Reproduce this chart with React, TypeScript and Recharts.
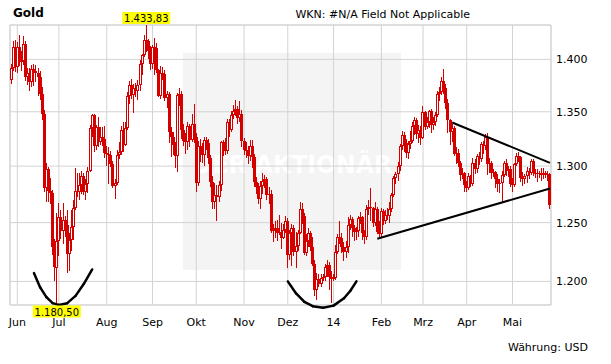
import React from 'react';
import {
  ComposedChart,
  Bar,
  XAxis,
  YAxis,
  CartesianGrid,
  ReferenceLine,
  ReferenceDot,
  ReferenceArea,
} from 'recharts';

// Gold spot, daily candles, 29.05.2013 – 27.05.2014 (index = trading day)
const opens = [
  1380, 1392, 1412, 1393, 1412, 1397, 1398, 1415, 1383, 1387, 1378, 1391, 1389, 1387, 1383, 1367, 1348, 1280, 1297, 1278,
  1276, 1229, 1211, 1234, 1255, 1243, 1252, 1248, 1223, 1235, 1246, 1263, 1278, 1277, 1283, 1291, 1277, 1284, 1296, 1335,
  1347, 1318, 1336, 1322, 1327, 1325, 1312, 1311, 1310, 1302, 1282, 1285, 1310, 1313, 1333, 1319, 1335, 1365, 1375, 1366,
  1372, 1370, 1375, 1396, 1404, 1419, 1418, 1408, 1396, 1412, 1411, 1390, 1365, 1387, 1386, 1363, 1367, 1331, 1327, 1319,
  1309, 1366, 1367, 1333, 1323, 1322, 1337, 1324, 1339, 1327, 1285, 1318, 1317, 1310, 1324, 1321, 1307, 1286, 1268, 1274,
  1272, 1283, 1322, 1316, 1314, 1340, 1333, 1347, 1351, 1353, 1344, 1348, 1323, 1315, 1314, 1309, 1318, 1308, 1286, 1281,
  1271, 1282, 1287, 1288, 1274, 1275, 1243, 1244, 1245, 1241, 1242, 1237, 1244, 1251, 1222, 1241, 1245, 1225, 1230, 1241,
  1262, 1256, 1224, 1234, 1241, 1229, 1215, 1193, 1202, 1198, 1203, 1204, 1212, 1214, 1204, 1202, 1203, 1225, 1238, 1237,
  1229, 1225, 1229, 1248, 1253, 1245, 1242, 1243, 1254, 1255, 1241, 1238, 1262, 1264, 1263, 1250, 1262, 1242, 1240, 1260,
  1251, 1257, 1256, 1262, 1274, 1289, 1293, 1300, 1318, 1328, 1321, 1312, 1320, 1323, 1337, 1342, 1329, 1333, 1326, 1350,
  1336, 1340, 1351, 1338, 1340, 1347, 1367, 1369, 1379, 1372, 1358, 1342, 1331, 1335, 1311, 1312, 1303, 1292, 1294, 1283,
  1280, 1291, 1284, 1303, 1297, 1309, 1306, 1320, 1318, 1327, 1302, 1303, 1294, 1295, 1288, 1284, 1285, 1292, 1303, 1296,
  1297, 1284, 1283, 1302, 1309, 1308, 1289, 1288, 1291, 1296, 1294, 1305, 1294, 1293, 1294, 1293, 1292, 1294, 1292, 1293,
];

const highs = [
  1396, 1418, 1419, 1417, 1424, 1408, 1423, 1418, 1392, 1392, 1395, 1396, 1395, 1392, 1389, 1373, 1352, 1303, 1299, 1289,
  1279, 1236, 1258, 1267, 1261, 1267, 1256, 1261, 1241, 1261, 1270, 1298, 1294, 1294, 1296, 1294, 1288, 1299, 1338, 1348,
  1348, 1338, 1345, 1336, 1336, 1337, 1318, 1317, 1314, 1305, 1288, 1315, 1322, 1337, 1340, 1340, 1369, 1379, 1381, 1376,
  1377, 1380, 1399, 1405, 1424, 1433.83, 1420, 1413, 1414, 1421, 1416, 1391, 1394, 1393, 1390, 1370, 1369, 1336, 1331, 1322,
  1368, 1372, 1370, 1339, 1330, 1340, 1339, 1348, 1357, 1330, 1323, 1325, 1321, 1327, 1327, 1325, 1310, 1291, 1285, 1283,
  1287, 1323, 1324, 1326, 1343, 1343, 1351, 1356, 1361, 1355, 1360, 1352, 1326, 1322, 1318, 1324, 1324, 1311, 1290, 1285,
  1287, 1294, 1292, 1290, 1281, 1279, 1249, 1251, 1252, 1257, 1250, 1249, 1256, 1254, 1244, 1249, 1248, 1242, 1244, 1268,
  1267, 1258, 1240, 1245, 1243, 1238, 1218, 1207, 1206, 1206, 1206, 1215, 1218, 1216, 1209, 1206, 1231, 1240, 1251, 1241,
  1233, 1234, 1255, 1257, 1255, 1248, 1246, 1256, 1259, 1256, 1244, 1265, 1270, 1280, 1264, 1268, 1264, 1251, 1263, 1262,
  1261, 1263, 1268, 1276, 1291, 1295, 1304, 1320, 1332, 1331, 1325, 1323, 1332, 1340, 1345, 1344, 1338, 1337, 1355, 1351,
  1345, 1352, 1353, 1345, 1350, 1370, 1373, 1383, 1391, 1376, 1362, 1343, 1339, 1337, 1317, 1316, 1305, 1298, 1295, 1287,
  1294, 1292, 1307, 1306, 1311, 1313, 1322, 1323, 1329, 1330, 1307, 1305, 1297, 1296, 1293, 1288, 1296, 1305, 1306, 1300,
  1300, 1289, 1303, 1312, 1313, 1309, 1295, 1293, 1299, 1298, 1306, 1306, 1297, 1297, 1296, 1298, 1298, 1296, 1296, 1294,
];

const lows = [
  1376, 1389, 1388, 1387, 1394, 1389, 1395, 1379, 1375, 1370, 1373, 1374, 1378, 1365, 1361, 1342, 1277, 1268, 1268, 1266,
  1222, 1200, 1180.5, 1221, 1236, 1232, 1238, 1207, 1209, 1226, 1235, 1261, 1272, 1270, 1275, 1274, 1270, 1276, 1295, 1327,
  1313, 1315, 1317, 1319, 1318, 1307, 1300, 1284, 1299, 1280, 1271, 1283, 1306, 1310, 1313, 1318, 1333, 1357, 1362, 1349,
  1364, 1361, 1370, 1385, 1402, 1407, 1400, 1390, 1391, 1385, 1387, 1364, 1362, 1380, 1360, 1354, 1321, 1308, 1310, 1298,
  1295, 1355, 1325, 1318, 1311, 1315, 1317, 1322, 1321, 1277, 1282, 1304, 1303, 1300, 1315, 1302, 1281, 1262, 1262, 1251,
  1268, 1278, 1309, 1310, 1311, 1327, 1331, 1343, 1346, 1339, 1340, 1317, 1310, 1307, 1302, 1305, 1298, 1281, 1275, 1266,
  1262, 1275, 1280, 1270, 1266, 1241, 1233, 1237, 1234, 1239, 1227, 1236, 1241, 1211, 1218, 1213, 1221, 1211, 1226, 1240,
  1249, 1222, 1221, 1229, 1226, 1213, 1188, 1185, 1195, 1195, 1200, 1200, 1204, 1193, 1182, 1200, 1201, 1223, 1232, 1224,
  1217, 1220, 1224, 1244, 1238, 1234, 1235, 1238, 1249, 1235, 1232, 1235, 1257, 1251, 1246, 1247, 1240, 1238, 1237, 1248,
  1249, 1252, 1250, 1259, 1272, 1284, 1287, 1296, 1315, 1313, 1307, 1306, 1316, 1321, 1328, 1325, 1321, 1319, 1325, 1333,
  1334, 1335, 1330, 1333, 1337, 1345, 1360, 1366, 1367, 1353, 1330, 1319, 1322, 1309, 1302, 1299, 1287, 1288, 1277, 1277,
  1279, 1281, 1282, 1293, 1294, 1301, 1304, 1311, 1315, 1292, 1294, 1288, 1290, 1280, 1277, 1276, 1268, 1290, 1291, 1290,
  1281, 1277, 1281, 1300, 1304, 1286, 1282, 1284, 1285, 1288, 1292, 1291, 1289, 1286, 1289, 1287, 1288, 1289, 1287, 1262,
];

const closes = [
  1392, 1412, 1393, 1412, 1397, 1398, 1415, 1383, 1387, 1378, 1391, 1389, 1387, 1383, 1367, 1348, 1280, 1297, 1278, 1276,
  1229, 1212, 1234, 1255, 1243, 1252, 1248, 1223, 1235, 1246, 1263, 1278, 1277, 1283, 1291, 1277, 1284, 1296, 1335, 1347,
  1318, 1336, 1322, 1327, 1325, 1312, 1311, 1310, 1302, 1282, 1285, 1310, 1313, 1333, 1319, 1335, 1365, 1375, 1366, 1372,
  1370, 1375, 1396, 1404, 1419, 1418, 1408, 1396, 1412, 1411, 1390, 1365, 1387, 1386, 1363, 1367, 1331, 1327, 1319, 1309,
  1366, 1367, 1333, 1323, 1322, 1337, 1324, 1339, 1327, 1285, 1318, 1317, 1310, 1324, 1321, 1307, 1286, 1268, 1274, 1272,
  1283, 1322, 1316, 1314, 1340, 1333, 1347, 1351, 1353, 1344, 1348, 1323, 1315, 1314, 1309, 1318, 1308, 1286, 1281, 1271,
  1282, 1287, 1288, 1274, 1275, 1243, 1244, 1245, 1241, 1242, 1237, 1244, 1251, 1222, 1241, 1245, 1225, 1230, 1241, 1262,
  1256, 1224, 1234, 1241, 1229, 1215, 1193, 1202, 1198, 1203, 1204, 1212, 1214, 1204, 1202, 1203, 1225, 1238, 1237, 1229,
  1225, 1229, 1248, 1253, 1245, 1242, 1243, 1254, 1255, 1241, 1238, 1262, 1264, 1263, 1250, 1262, 1242, 1240, 1260, 1251,
  1257, 1256, 1262, 1274, 1289, 1293, 1300, 1318, 1328, 1321, 1312, 1320, 1323, 1337, 1342, 1329, 1333, 1326, 1350, 1336,
  1340, 1351, 1338, 1340, 1347, 1367, 1369, 1379, 1372, 1358, 1342, 1331, 1335, 1311, 1312, 1303, 1292, 1294, 1283, 1280,
  1291, 1284, 1303, 1297, 1309, 1306, 1320, 1318, 1327, 1302, 1303, 1294, 1295, 1288, 1284, 1285, 1292, 1303, 1296, 1297,
  1284, 1283, 1302, 1309, 1308, 1289, 1288, 1291, 1296, 1294, 1305, 1294, 1293, 1294, 1293, 1292, 1294, 1292, 1293, 1265,
];

const monthTickIdx = [3, 23, 46, 68, 89, 112, 133, 155, 178, 198, 219, 241];
const monthLabels = ['Jun', 'Jul', 'Aug', 'Sep', 'Okt', 'Nov', 'Dez', '14', 'Feb', 'Mrz', 'Apr', 'Mai'];
const priceTicks = [1200, 1250, 1300, 1350, 1400];
const priceDomain = [1180.5, 1433.83];

// hand-drawn annotations (trading-day index, price)
const arcJune = [
  { i: 11, p: 1207 }, { i: 14, p: 1195 }, { i: 17, p: 1187 }, { i: 20, p: 1182 }, { i: 23, p: 1180.5 },
  { i: 27, p: 1182 }, { i: 31, p: 1188 }, { i: 35, p: 1198 }, { i: 39, p: 1210 },
];
const arcDecember = [
  { i: 133, p: 1200 }, { i: 137, p: 1190 }, { i: 141, p: 1183 }, { i: 145, p: 1179.5 }, { i: 150, p: 1178.3 },
  { i: 155, p: 1180 }, { i: 160, p: 1186 }, { i: 163, p: 1192 }, { i: 166, p: 1200 },
];
const upperTrend = [{ i: 212, p: 1340 }, { i: 259, p: 1303 }];
const lowerTrend = [{ i: 176, p: 1236 }, { i: 259, p: 1280 }];
const highMark = { i: 65, p: 1433.83 };
const lowMark = { i: 22, p: 1180.5 };

const RED = '#d40000';
const GRID = '#d3d3d3';
const FONT = '"DejaVu Sans", Verdana, sans-serif';

const data = closes.map((c, i) => ({
  i,
  o: opens[i],
  h: highs[i],
  l: lows[i],
  c,
  wick: [lows[i], highs[i]],
  body: [Math.min(opens[i], c), Math.max(opens[i], c) === Math.min(opens[i], c) ? c + 0.01 : Math.max(opens[i], c)],
}));

const thousands = (n: number) => String(n).replace(/\B(?=(\d{3})+(?!\d))/g, '.');
const germanPrice = (v: number) => {
  const [a, b] = v.toFixed(2).split('.');
  return thousands(Number(a)) + ',' + b;
};

const WickShape = (props: any) => {
  const { x, y, width, height } = props;
  if (x == null || y == null) return null;
  const cx = Math.floor(x + width / 2) + 0.5;
  const y1 = Math.min(y, y + height);
  const y2 = Math.max(y, y + height);
  return <line x1={cx} x2={cx} y1={Math.round(y1)} y2={Math.round(y2)} stroke={RED} strokeWidth={1} />;
};

const BodyShape = (props: any) => {
  const { x, y, width, height, payload } = props;
  if (x == null || y == null || !payload) return null;
  const fx = Math.floor(x + width / 2);
  const top = Math.round(Math.min(y, y + height));
  const bot = Math.round(Math.max(y, y + height));
  const h = Math.max(1, bot - top);
  const up = payload.c > payload.o;
  if (up && h >= 3) {
    return (
      <rect x={fx - 0.5} y={top + 0.5} width={2} height={h - 1} fill="#fff" stroke={RED} strokeWidth={1} />
    );
  }
  return <rect x={fx - 1} y={top} width={3} height={h} fill={RED} />;
};

const PriceTag = ({ cx, cy, value, above }: any) => {
  if (cx == null || cy == null) return null;
  const w = 48;
  const top = above ? cy - 13 : cy + 0.5;
  return (
    <g>
      <rect x={cx - w / 2} y={top} width={w} height={12} fill="#ffff00" />
      <text x={cx} y={top + 10} textAnchor="middle" fontSize={10} fontFamily={FONT} fill="#000">
        {germanPrice(value)}
      </text>
    </g>
  );
};

const segments = (pts: { i: number; p: number }[]) =>
  pts.slice(1).map((pt, k) => [
    { x: pts[k].i, y: pts[k].p },
    { x: pt.i, y: pt.p },
  ]);

export default function App() {
  return (
    <div
      style={{
        position: 'absolute',
        left: 0,
        top: 0,
        width: 611,
        height: 364,
        background: '#fff',
        overflow: 'hidden',
        fontFamily: FONT,
      }}
    >
      {/* watermark */}
      <div style={{ position: 'absolute', left: 183, top: 53, width: 218, height: 217, background: '#f4f4f4' }}>
        <svg width={218} height={217} style={{ position: 'absolute', left: 0, top: 0 }}>
          <text
            x={10}
            y={120}
            fill="#ffffff"
            fontSize={24}
            fontWeight="bold"
            fontFamily={FONT}
            textLength={199}
            lengthAdjust="spacingAndGlyphs"
          >
            DER AKTIONÄR
          </text>
        </svg>
      </div>

      <div style={{ position: 'absolute', left: 0, top: 0 }}>
        <ComposedChart width={611} height={364} data={data} margin={{ top: 25, right: 0, bottom: 29, left: 10 }}>
          <CartesianGrid stroke={GRID} strokeWidth={1} />
          <ReferenceArea y1={priceDomain[0]} y2={priceDomain[1]} fill="none" stroke={GRID} strokeWidth={1} ifOverflow="visible" />
          <XAxis
            dataKey="i"
            type="category"
            ticks={monthTickIdx}
            interval={0}
            tickFormatter={(v: number) => monthLabels[monthTickIdx.indexOf(v)] ?? ''}
            axisLine={false}
            tickLine={false}
            tickSize={6}
            tickMargin={7}
            height={30}
            tick={{ fontSize: 11, fill: '#000', fontFamily: FONT }}
          />
          <XAxis xAxisId="body" dataKey="i" type="category" hide />
          <YAxis
            orientation="right"
            type="number"
            scale="log"
            domain={priceDomain}
            allowDataOverflow
            ticks={priceTicks}
            interval={0}
            tickFormatter={(v: number) => thousands(v)}
            axisLine={false}
            tickLine={false}
            tickSize={4}
            tickMargin={1}
            width={60}
            tick={{ fontSize: 11, fill: '#000', fontFamily: FONT, textAnchor: 'start' }}
          />
          <Bar dataKey="wick" barSize={2} shape={<WickShape />} isAnimationActive={false} />
          <Bar xAxisId="body" dataKey="body" barSize={2} shape={<BodyShape />} isAnimationActive={false} />

          {segments(arcJune).map((seg, k) => (
            <ReferenceLine key={'a' + k} segment={seg} stroke="#000" strokeWidth={2.5} strokeLinecap="round" ifOverflow="visible" />
          ))}
          {segments(arcDecember).map((seg, k) => (
            <ReferenceLine key={'b' + k} segment={seg} stroke="#000" strokeWidth={2.5} strokeLinecap="round" ifOverflow="visible" />
          ))}
          <ReferenceLine
            segment={[{ x: upperTrend[0].i, y: upperTrend[0].p }, { x: upperTrend[1].i, y: upperTrend[1].p }]}
            stroke="#000"
            strokeWidth={2}
            ifOverflow="visible"
          />
          <ReferenceLine
            segment={[{ x: lowerTrend[0].i, y: lowerTrend[0].p }, { x: lowerTrend[1].i, y: lowerTrend[1].p }]}
            stroke="#000"
            strokeWidth={2}
            ifOverflow="visible"
          />
          <ReferenceDot
            x={highMark.i}
            y={highMark.p}
            r={0}
            ifOverflow="visible"
            shape={(p: any) => <PriceTag cx={p.cx} cy={p.cy} value={highMark.p} above />}
          />
          <ReferenceDot
            x={lowMark.i}
            y={lowMark.p}
            r={0}
            ifOverflow="visible"
            shape={(p: any) => <PriceTag cx={p.cx} cy={p.cy} value={lowMark.p} above={false} />}
          />
        </ComposedChart>
      </div>

      <svg width={611} height={364} style={{ position: 'absolute', left: 0, top: 0, pointerEvents: 'none' }}>
        <text x={13} y={17} fontSize={12} fontWeight="bold" fontFamily={FONT} fill="#000">
          Gold
        </text>
        <text x={470} y={17.5} fontSize={11} fontFamily={FONT} fill="#000" textAnchor="end">
          WKN: #N/A Field Not Applicable
        </text>
        <text x={588} y={351} fontSize={11} fontFamily={FONT} fill="#000" textAnchor="end">
          Währung: USD
        </text>
      </svg>
    </div>
  );
}
